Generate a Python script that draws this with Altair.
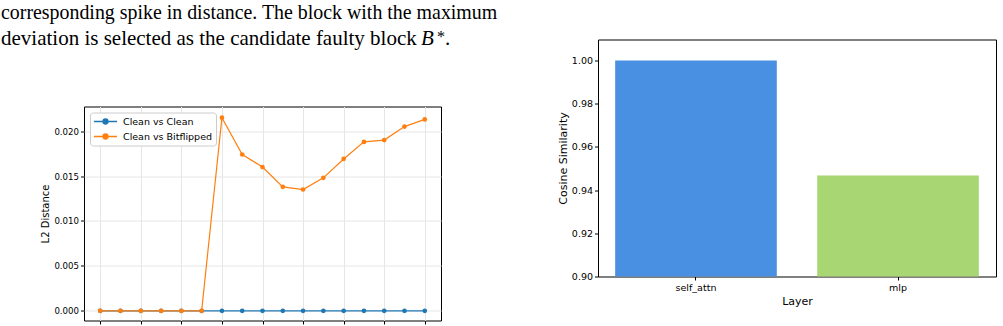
import altair as alt
import pandas as pd

# ---- paragraph text above the left figure ----
paragraph_lines = [
    "corresponding spike in distance. The block with the maximum",
    "deviation is selected as the candidate faulty block",
]
block_symbol = "B"
block_sup = "*"
sentence_end = "."

# ---- per-block L2 distance ----
blocks = [0, 1, 2, 3, 4, 5, 6, 7, 8, 9, 10, 11, 12, 13, 14, 15, 16]
clean_vs_clean = [0.0, 0.0, 0.0, 0.0, 0.0, 0.0, 0.0, 0.0, 0.0,
                  0.0, 0.0, 0.0, 0.0, 0.0, 0.0, 0.0, 0.0]
clean_vs_bitflipped = [0.0, 0.0, 0.0, 0.0, 0.0, 0.0, 0.0215, 0.0174, 0.0160,
                       0.0138, 0.0135, 0.0148, 0.0169, 0.0188, 0.0190, 0.0205, 0.0213]
series_names = ["Clean vs Clean", "Clean vs Bitflipped"]
series_colors = ["#1f77b4", "#ff7f0e"]
x_ticks = [0, 2, 4, 6, 8, 10, 12, 14, 16]
y_ticks = [0.0, 0.005, 0.010, 0.015, 0.020]

# ---- per-layer cosine similarity ----
layers = ["self_attn", "mlp"]
cosine = [1.0, 0.9468]
layer_colors = ["#4a90e2", "#a8d672"]
cos_ticks = [0.90, 0.92, 0.94, 0.96, 0.98, 1.00]

SERIF = "Liberation Serif"
SANS = "DejaVu Sans"

# ---------------- paragraph ----------------
def text_piece(s, x, y, size=21, style="normal"):
    return alt.Chart(pd.DataFrame({"t": [s]})).mark_text(
        align="left", baseline="alphabetic", font=SERIF, fontSize=size,
        fontStyle=style, color="black"
    ).encode(text="t:N", x=alt.value(x), y=alt.value(y))

text_chart = alt.layer(
    text_piece(paragraph_lines[0], -83, -21, size=19.9),
    text_piece(paragraph_lines[1], -83, 5),
    text_piece(block_symbol, 337, 5, style="italic"),
    text_piece(block_sup, 353, 2, size=16),
    text_piece(sentence_end, 361, 5),
).properties(width=357, height=10, view=alt.ViewBackground(stroke="transparent"))

# ---------------- line chart ----------------
rows = []
for name, vals in zip(series_names, [clean_vs_clean, clean_vs_bitflipped]):
    for b, v in zip(blocks, vals):
        rows.append({"block": b, "distance": v, "series": name})
dist = pd.DataFrame(rows)

legend_symbol = "M-1,0H3.6M0.8,0A0.5,0.5,0,1,1,1.8,0A0.5,0.5,0,1,1,0.8,0Z"

color = alt.Color(
    "series:N",
    scale=alt.Scale(domain=series_names, range=series_colors),
    legend=alt.Legend(
        title=None, orient="top-left", offset=6, padding=3,
        strokeColor="#cccccc", fillColor="white", cornerRadius=3,
        labelFont=SANS, labelFontSize=9.5, labelColor="#000",
        symbolType=legend_symbol, symbolSize=100, symbolStrokeWidth=1.3,
        labelOffset=18, rowPadding=3,
    ),
)
x_enc = alt.X(
    "block:Q",
    scale=alt.Scale(domain=[-0.8, 16.8], nice=False, zero=False),
    axis=alt.Axis(values=x_ticks, labels=False, title=None, tickSize=3.5,
                  domain=False, grid=True, gridColor="#e6e6e6", tickColor="#000"),
)
y_enc = alt.Y(
    "distance:Q",
    scale=alt.Scale(domain=[-0.00108, 0.02274], nice=False, zero=False),
    axis=alt.Axis(values=y_ticks, format=".3f", title="L2 Distance", tickSize=3.5,
                  domain=False, grid=True, gridColor="#e6e6e6", tickColor="#000",
                  labelFont=SANS, labelFontSize=8.6, labelColor="#000", labelPadding=2,
                  titleFont=SANS, titleFontSize=10, titleFontWeight="normal",
                  titleColor="#000", titlePadding=3),
)

def series_layer(name):
    base = alt.Chart(dist).transform_filter(alt.datum.series == name).encode(
        x=x_enc, y=y_enc, color=color)
    return base.mark_line(strokeWidth=1.2) + base.mark_point(filled=True, size=22, opacity=1)

line_chart = alt.layer(series_layer(series_names[0]), series_layer(series_names[1])).properties(
    width=357, height=214)

left_col = alt.vconcat(text_chart, line_chart, spacing=57, bounds="flush").resolve_scale(
    color="independent")

# ---------------- bar chart ----------------
cos_df = pd.DataFrame({"layer": layers, "cosine": cosine})
bar_chart = alt.Chart(cos_df).mark_bar(clip=True).encode(
    x=alt.X("layer:N", sort=layers,
            scale=alt.Scale(paddingInner=0.2, paddingOuter=0.085),
            axis=alt.Axis(title="Layer", labelAngle=0, tickSize=3.5, domain=False,
                          tickColor="#000", labelFont=SANS, labelFontSize=9.5,
                          labelColor="#000", labelPadding=2, titleFont=SANS,
                          titleFontSize=11, titleFontWeight="normal",
                          titleColor="#000", titlePadding=4)),
    y=alt.Y("cosine:Q", scale=alt.Scale(domain=[0.9, 1.0097], nice=False, zero=False),
            axis=alt.Axis(values=cos_ticks, format=".2f", title="Cosine Similarity",
                          tickSize=3.5, domain=False, grid=False, tickColor="#000",
                          labelFont=SANS, labelFontSize=9.5, labelColor="#000",
                          labelPadding=2, titleFont=SANS, titleFontSize=11,
                          titleFontWeight="normal", titleColor="#000", titlePadding=3)),
    color=alt.Color("layer:N", scale=alt.Scale(domain=layers, range=layer_colors),
                    legend=None),
).properties(width=398, height=237)

chart = alt.hconcat(left_col, bar_chart, spacing=514, bounds="flush").resolve_scale(
    color="independent"
).properties(
    padding={"left": 0, "top": 1.5, "right": 0, "bottom": 0},
    background="white",
).configure_view(stroke="#000", strokeWidth=1)

chart.save("out.html", embed_options={"renderer": "svg", "actions": False})
